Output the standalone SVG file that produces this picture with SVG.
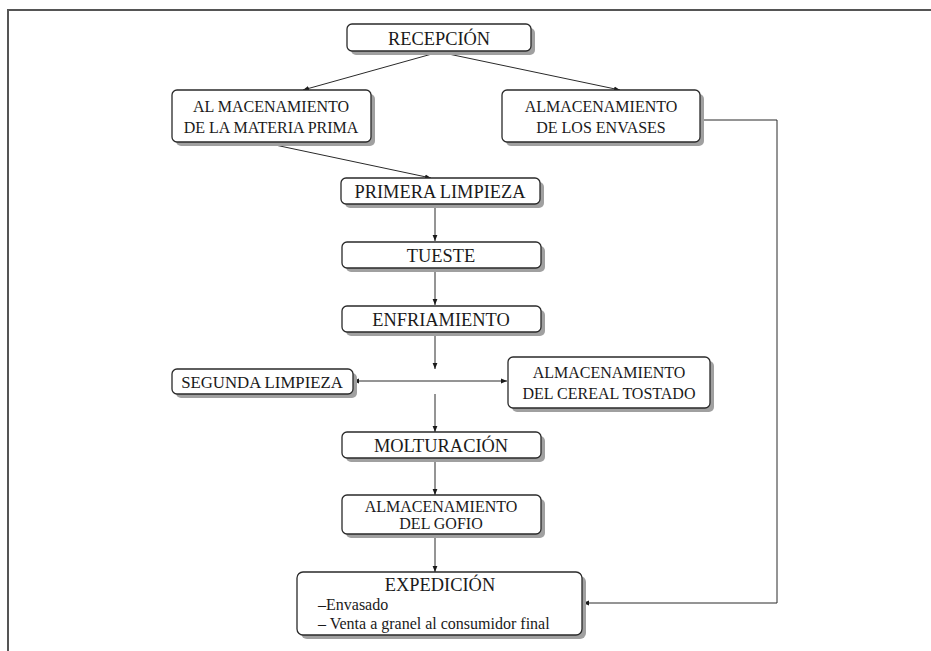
<svg xmlns="http://www.w3.org/2000/svg" width="931" height="651" viewBox="0 0 931 651" font-family="'Liberation Serif', 'Times New Roman', serif">
  <defs>
    <marker id="arrow" viewBox="0 0 10 10" refX="10" refY="5" markerWidth="6" markerHeight="6" markerUnits="userSpaceOnUse" orient="auto-start-reverse">
      <path d="M0,1 L10,5 L0,9 Z" fill="#1a1a1a"/>
    </marker>
    <style>
      .shadow { fill: #a0a0a0; }
      .box { fill: #ffffff; stroke: #2a2a2a; stroke-width: 1.3; }
      .t { font-family: 'Liberation Serif', 'Times New Roman', serif; fill: #1a1a1a; text-anchor: middle; }
      .big { font-size: 18.4px; }
      .mid { font-size: 16.8px; }
      .small { font-size: 16px; }
      .left { text-anchor: start; }
      .conn { fill: none; stroke: #2a2a2a; stroke-width: 1; }
      .frame { fill: none; stroke: #555; stroke-width: 2; }
    </style>
  </defs>

  <rect width="931" height="651" fill="#ffffff"/>

  <!-- page border -->
  <path class="frame" d="M8,651 V10 H931"/>

  <!-- connectors -->
  <g id="connectors">
    <path class="conn" d="M439,52 L303,90" marker-end="url(#arrow)"/>
    <path class="conn" d="M439,52 L620,90" marker-end="url(#arrow)"/>
    <path class="conn" d="M261,142 L431,178" marker-end="url(#arrow)"/>
    <path class="conn" d="M435,204 V241" marker-end="url(#arrow)"/>
    <path class="conn" d="M435,268 V305" marker-end="url(#arrow)"/>
    <path class="conn" d="M435,332 V369" marker-end="url(#arrow)"/>
    <path class="conn" d="M353,381 H507" marker-start="url(#arrow)" marker-end="url(#arrow)"/>
    <path class="conn" d="M435,394 V432" marker-end="url(#arrow)"/>
    <path class="conn" d="M435,458 V495" marker-end="url(#arrow)"/>
    <path class="conn" d="M435,534 V572" marker-end="url(#arrow)"/>
    <path class="conn" d="M701,120 H777 V603 H583" marker-end="url(#arrow)"/>
  </g>

  <g id="recepcion">
    <rect class="shadow" x="351" y="28" width="184" height="27" rx="5"/>
    <rect class="box" x="347" y="24" width="184" height="27" rx="5"/>
    <text class="t big" x="439" y="44.5">RECEPCIÓN</text>
  </g>

  <g id="almacen-materia-prima">
    <rect class="shadow" x="176" y="94" width="199" height="52" rx="5"/>
    <rect class="box" x="172" y="90" width="199" height="52" rx="5"/>
    <text class="t small" x="271" y="112">AL MACENAMIENTO</text>
    <text class="t small" x="271" y="133">DE LA MATERIA PRIMA</text>
  </g>

  <g id="almacen-envases">
    <rect class="shadow" x="506" y="94" width="198" height="52" rx="5"/>
    <rect class="box" x="502" y="90" width="198" height="52" rx="5"/>
    <text class="t small" x="601" y="112">ALMACENAMIENTO</text>
    <text class="t small" x="601" y="133">DE LOS ENVASES</text>
  </g>

  <g id="primera-limpieza">
    <rect class="shadow" x="345" y="182" width="199" height="26" rx="5"/>
    <rect class="box" x="341" y="178" width="199" height="26" rx="5"/>
    <text class="t big" x="440" y="197.5">PRIMERA LIMPIEZA</text>
  </g>

  <g id="tueste">
    <rect class="shadow" x="346" y="246" width="199" height="26" rx="5"/>
    <rect class="box" x="342" y="242" width="199" height="26" rx="5"/>
    <text class="t big" x="441" y="261.5">TUESTE</text>
  </g>

  <g id="enfriamiento">
    <rect class="shadow" x="346" y="310" width="199" height="26" rx="5"/>
    <rect class="box" x="342" y="306" width="199" height="26" rx="5"/>
    <text class="t big" x="441" y="325.5">ENFRIAMIENTO</text>
  </g>

  <g id="segunda-limpieza">
    <rect class="shadow" x="176" y="373" width="181" height="25" rx="5"/>
    <rect class="box" x="172" y="369" width="181" height="25" rx="5"/>
    <text class="t mid" x="262" y="388">SEGUNDA LIMPIEZA</text>
  </g>

  <g id="almacen-cereal-tostado">
    <rect class="shadow" x="512" y="361" width="202" height="51" rx="5"/>
    <rect class="box" x="508" y="357" width="202" height="51" rx="5"/>
    <text class="t small" x="609" y="378">ALMACENAMIENTO</text>
    <text class="t small" x="609" y="399">DEL CEREAL TOSTADO</text>
  </g>

  <g id="molturacion">
    <rect class="shadow" x="346" y="436" width="199" height="26" rx="5"/>
    <rect class="box" x="342" y="432" width="199" height="26" rx="5"/>
    <text class="t big" x="441" y="451.5">MOLTURACIÓN</text>
  </g>

  <g id="almacen-gofio">
    <rect class="shadow" x="346" y="499" width="199" height="39" rx="5"/>
    <rect class="box" x="342" y="495" width="199" height="39" rx="5"/>
    <text class="t small" x="441" y="512">ALMACENAMIENTO</text>
    <text class="t small" x="441" y="529">DEL GOFIO</text>
  </g>

  <g id="expedicion">
    <rect class="shadow" x="301" y="576" width="285" height="63" rx="6"/>
    <rect class="box" x="297" y="572" width="285" height="63" rx="6"/>
    <text class="t big" x="440" y="591">EXPEDICIÓN</text>
    <text class="t small left" x="318" y="610">–Envasado</text>
    <text class="t small left" x="318" y="629">– Venta a granel al consumidor final</text>
  </g>
</svg>
